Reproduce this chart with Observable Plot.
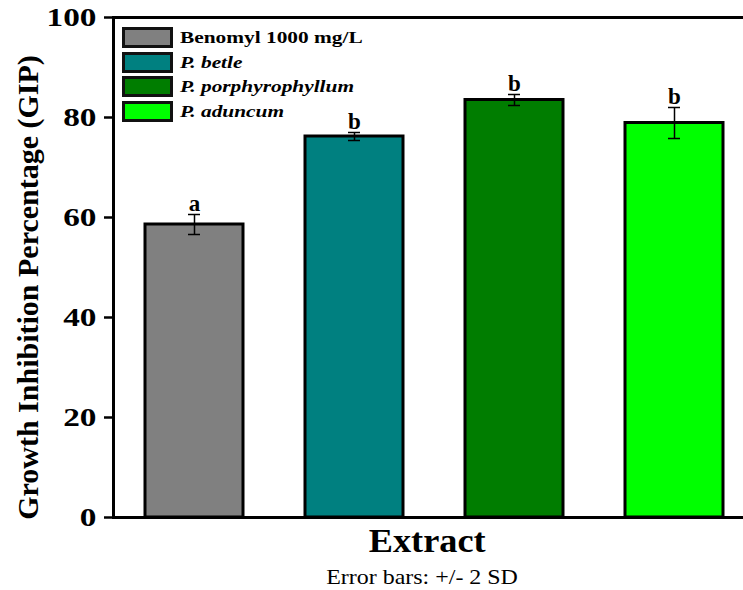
<!DOCTYPE html>
<html><head><meta charset="utf-8">
<script src="https://cdn.jsdelivr.net/npm/d3@7"></script>
<script src="https://cdn.jsdelivr.net/npm/@observablehq/plot@0.6"></script>
<style>
body{margin:0;background:#fff;}
#wrap{position:relative;width:743px;height:590px;font-family:"Liberation Serif","Times New Roman",serif;overflow:hidden;}
#legend{position:absolute;left:122px;top:27px;}
.row{display:flex;align-items:center;height:21px;margin-bottom:3.7px;}
.sw{width:45px;height:15px;border:3px solid #111;}
.lab{margin-left:7px;font-weight:bold;font-size:17.5px;transform:scaleX(1.22);transform-origin:left center;white-space:nowrap;color:#000;}
#xl{position:absolute;top:521px;left:111px;width:632px;text-align:center;font-weight:bold;font-size:33px;line-height:40px;}
#xl span{display:inline-block;transform:scaleX(1.1);}
#cap{position:absolute;top:564px;left:101px;width:642px;text-align:center;font-size:21px;line-height:26px;}
#cap span{display:inline-block;transform:scaleX(1.14);}
</style></head>
<body>
<div id="wrap">
<div id="chart"></div>
<div id="legend"></div>
<div id="xl"></div>
<div id="cap"></div>
</div>
<script>
const categories = ["Benomyl 1000 mg/L", "P. betle", "P. porphyrophyllum", "P. aduncum"];
const means = [58.6, 76.2, 83.5, 78.9];
const err2sd = [2.0, 0.8, 1.1, 3.1];
const letters = ["a", "b", "b", "b"];
const colors = ["#808080", "#008080", "#007d00", "#00ff00"];
const italic = [false, true, true, true];
const yTicks = [0, 20, 40, 60, 80, 100];
const yLabel = "Growth Inhibition Percentage (GIP)";
const xLabel = "Extract";
const caption = "Error bars: +/- 2 SD";

const data = categories.map((c, i) => ({c, m: means[i], e: err2sd[i], l: letters[i]}));

const plot = Plot.plot({
  width: 743, height: 530,
  marginTop: 17, marginBottom: 13, marginLeft: 113, marginRight: -12,
  x: {domain: categories, paddingInner: 0.39, paddingOuter: 0.2, axis: null},
  y: {domain: [0, 100], axis: null},
  color: {domain: categories, range: colors},
  style: {fontFamily: "'Liberation Serif', serif", background: "white", overflow: "visible"},
  marks: [
    Plot.barY(data, {x: "c", y: "m", fill: "c", stroke: "black", strokeWidth: 3}),
    Plot.ruleX(data, {x: "c", y1: d => d.m - d.e, y2: d => d.m + d.e, strokeWidth: 1.5}),
    Plot.tickY(data, {x: "c", y: d => d.m + d.e, insetLeft: 43, insetRight: 43, strokeWidth: 1.5}),
    Plot.tickY(data, {x: "c", y: d => d.m - d.e, insetLeft: 43, insetRight: 43, strokeWidth: 1.5}),
    Plot.text(data, {x: "c", y: d => d.m + d.e, text: "l", lineAnchor: "bottom", dy: -4, fontWeight: "bold", fontSize: 23}),
    Plot.axisY({ticks: yTicks, tickSize: 9, tickPadding: 8, fontSize: 26, fontWeight: "bold", label: null, tickFormat: d => String(d), strokeWidth: 2.5}),
    Plot.text([yLabel], {frameAnchor: "left", rotate: -90, dx: -85, dy: 20, fontSize: 30, fontWeight: "bold", textAnchor: "middle", lineAnchor: "middle"}),
    Plot.frame({strokeWidth: 3})
  ]
});
document.getElementById("chart").appendChild(plot);

// horizontal stretch of glyphs (as in the reference image)
plot.querySelectorAll('g[aria-label="y-axis tick label"] text').forEach(t => {
  const tr = t.getAttribute("transform") || "";
  t.setAttribute("transform", tr + " scale(1.28,1)");
});

const leg = document.getElementById("legend");
categories.forEach((c, i) => {
  const row = document.createElement("div"); row.className = "row";
  const sw = document.createElement("div"); sw.className = "sw"; sw.style.background = colors[i];
  const lab = document.createElement("div"); lab.className = "lab"; lab.textContent = c;
  if (italic[i]) lab.style.fontStyle = "italic";
  row.appendChild(sw); row.appendChild(lab); leg.appendChild(row);
});
document.getElementById("xl").innerHTML = "<span></span>";
document.querySelector("#xl span").textContent = xLabel;
document.getElementById("cap").innerHTML = "<span></span>";
document.querySelector("#cap span").textContent = caption;
</script>
</body></html>
